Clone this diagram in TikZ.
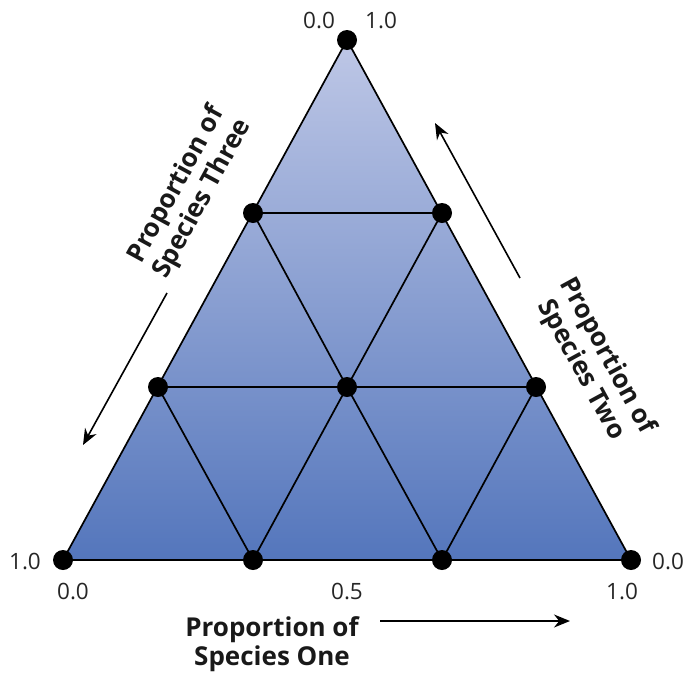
\documentclass[tikz,border=0pt]{standalone}
\usepackage{fontspec}
\setmainfont{Open Sans}
\usetikzlibrary{arrows.meta}
\definecolor{topblue}{RGB}{190,199,230}
\definecolor{botblue}{RGB}{84,118,188}
\begin{document}
\begin{tikzpicture}[x=1pt,y=-1pt,
  dotnode/.style={circle,fill=black,inner sep=0pt,minimum width=20pt,minimum height=19pt},
  gridline/.style={line width=1.7pt,black},
  numlabel/.style={font=\fontsize{22.5}{26}\selectfont,text=black!85},
  axislabel/.style={font=\fontsize{26}{29.5}\selectfont\bfseries,align=center,text=black!90,inner sep=0pt},
  axisarrow/.style={line width=1.6pt,-{Stealth[length=16pt,width=13pt]}}]
\useasboundingbox (0,0) rectangle (688,675);
\coordinate (A) at (63,560);
\coordinate (B) at (631,560);
\coordinate (C) at (347,40);
\shade[top color=topblue,bottom color=botblue] (A) -- (B) -- (C) -- cycle;
\coordinate (b1) at (253,560);
\coordinate (b2) at (442,560);
\coordinate (l1) at (158,387);
\coordinate (r1) at (536,387);
\coordinate (m) at (347,387);
\coordinate (l2) at (253,213);
\coordinate (r2) at (442,213);
\draw[gridline] (l1) -- (r1);
\draw[gridline] (l2) -- (r2);
\draw[gridline] (l1) -- (b1) -- (m) -- (b2) -- (r1);
\draw[gridline] (l2) -- (m) -- (r2);
\draw[gridline,line join=miter] (A) -- (B) -- (C) -- cycle;
\foreach \p in {A,B,C,b1,b2,l1,r1,m,l2,r2}
  \node[dotnode] (d\p) at (\p) {};
\node[numlabel] (tl) at (319,20) {0.0};
\node[numlabel] (tr) at (381,20) {1.0};
\node[numlabel] (lv) at (25,561) {1.0};
\node[numlabel] (rv) at (668,561) {0.0};
\node[numlabel] (x0) at (73,591) {0.0};
\node[numlabel] (x5) at (347,591) {0.5};
\node[numlabel] (x1) at (622,591) {1.0};
\node[axislabel] (one) at (272,644) {Proportion of\\Species One};
\node[axislabel,rotate=61.4] (three) at (190,192) {Proportion of\\Species Three};
\node[axislabel,rotate=-61.4] (two) at (594,363) {Proportion of\\Species Two};
\coordinate (o1) at (380,621);
\coordinate (o2) at (570,621);
\draw[axisarrow] (o1) -- (o2);
\coordinate (t1) at (167,293);
\coordinate (t2) at (83,445);
\draw[axisarrow] (t1) -- (t2);
\coordinate (w1) at (520,278);
\coordinate (w2) at (435,123);
\draw[axisarrow] (w1) -- (w2);
\end{tikzpicture}
\end{document}
